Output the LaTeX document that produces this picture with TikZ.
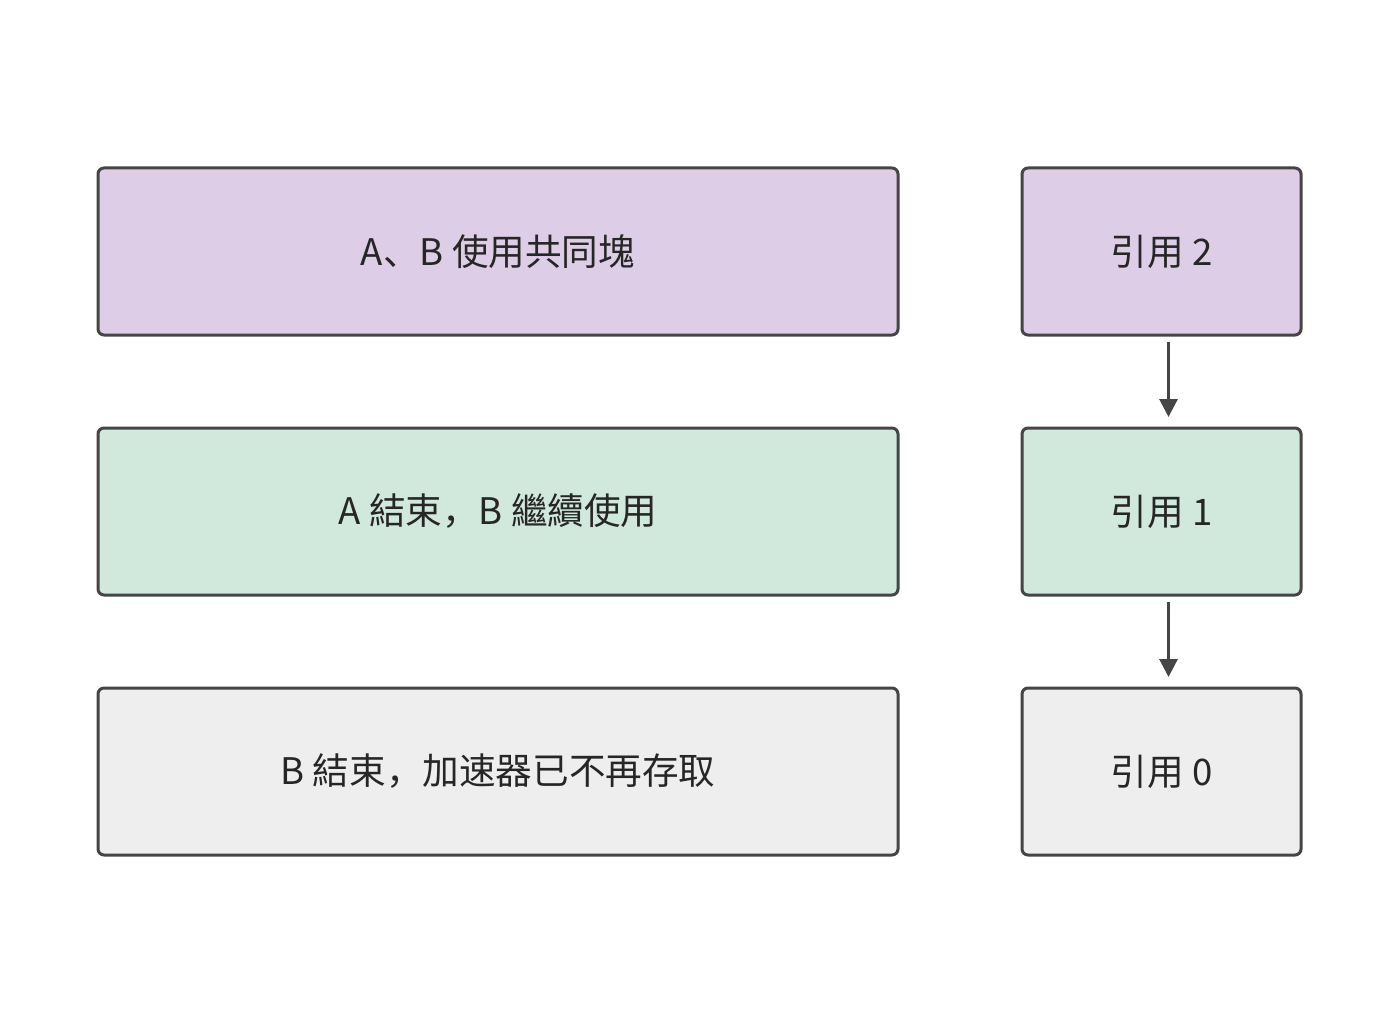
\documentclass[tikz,border=0pt]{standalone}
\usepackage{fontspec}
\setmainfont{Noto Sans CJK SC}
\usepackage{tikz}
\usetikzlibrary{positioning, arrows.meta}

\definecolor{edgegray}{HTML}{454545}
\definecolor{lilac}{HTML}{DECDE7}
\definecolor{mint}{HTML}{D1E8DD}
\definecolor{ash}{HTML}{EEEEEE}

\begin{document}
\begin{tikzpicture}[x=1pt, y=1pt,
  every node/.style = {shape=rectangle, draw=edgegray, line width=1.5pt,
    rounded corners=3pt, outer sep=0pt, inner sep=0pt, align=center,
    text=black!85, font=\fontsize{18.3}{22}\selectfont},
  stagebox/.style = {minimum width=400pt, minimum height=83.5pt},
  countbox/.style = {minimum width=139.5pt, minimum height=83.5pt},
  stepline/.style = {draw=edgegray, line width=1.5pt,
    -{Triangle[width=9pt, length=9pt]}, shorten <=3.5pt, shorten >=5.5pt}]
  \useasboundingbox (0,0) rectangle (700,-516);

  \node[stagebox, fill=lilac] (shared) at (249,-125.75) {A、B 使用共同塊};
  \node[stagebox, fill=mint, below=46.5pt of shared] (aend) {A 結束，B 繼續使用};
  \node[stagebox, fill=ash, below=46.5pt of aend] (bend) {B 結束，加速器已不再存取};

  \node[countbox, fill=lilac, right=62pt of shared] (ref2) {引用 2};
  \node[countbox, fill=mint, right=62pt of aend] (ref1) {引用 1};
  \node[countbox, fill=ash, right=62pt of bend] (ref0) {引用 0};

  % reference count drops
  \draw[stepline] ([xshift=3.5pt]ref2.south) -- ([xshift=3.5pt]ref1.north);
  \draw[stepline] ([xshift=3.5pt]ref1.south) -- ([xshift=3.5pt]ref0.north);
\end{tikzpicture}
\end{document}
